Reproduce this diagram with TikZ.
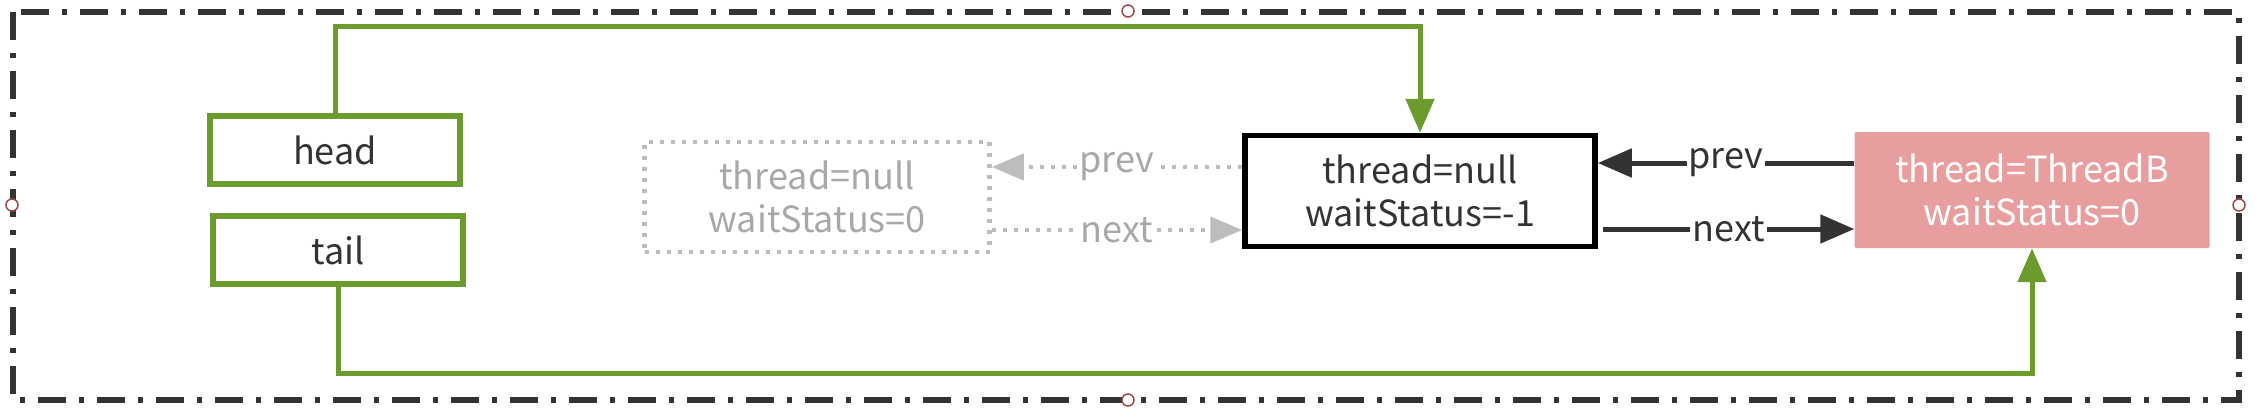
\documentclass[tikz,border=0pt]{standalone}
\usepackage{fontspec}
\setmainfont{Noto Sans CJK SC}
\usetikzlibrary{arrows.meta,calc}
\definecolor{grn}{HTML}{6B9B2D}
\definecolor{pinkbox}{HTML}{E89E9E}
\definecolor{gry}{HTML}{BDBDBD}
\definecolor{grytxt}{HTML}{A8A8A8}
\definecolor{drk}{HTML}{333333}
\definecolor{hdl}{HTML}{9C4A4A}
\begin{document}
\begin{tikzpicture}[x=1pt,y=-1pt,
  font=\fontsize{36}{43}\selectfont,
  ptrbox/.style={draw=grn, line width=5.5pt, minimum width=250pt, minimum height=68pt, text=drk, inner sep=0pt},
  oldnode/.style={draw=gry, line width=4.5pt, dash pattern=on 4pt off 7pt, text=grytxt, align=center, minimum width=345pt, minimum height=110pt, inner sep=0pt},
  curnode/.style={draw=black, line width=5.5pt, text=drk, align=center, minimum width=350pt, minimum height=111pt, inner sep=0pt},
  newnode/.style={fill=pinkbox, text=white, align=center, minimum width=355pt, minimum height=116pt, inner sep=0pt, rounded corners=2pt},
  gptr/.style={draw=grn, line width=5pt, -{Triangle[length=34pt,width=28pt]}},
  garr/.style={draw=gry, line width=4.5pt, dash pattern=on 4pt off 7pt, -{Triangle[length=32pt,width=26pt]}},
  darr/.style={draw=drk, line width=5pt, -{Triangle[length=34pt,width=28pt]}},
  glabel/.style={fill=white, text=grytxt, inner sep=2pt},
  dlabel/.style={fill=white, text=drk, inner sep=2pt},
  handle/.style={circle, draw=hdl, fill=white, line width=1.5pt, minimum size=12pt, inner sep=0pt}
]
\fill[white] (0,0) rectangle (2258,416);
\useasboundingbox (0,0) rectangle (2258,416);

% frame
\draw[drk, line width=6pt, dash pattern=on 28pt off 13pt on 5pt off 13pt] (13,12) rectangle (2239,400);

% nodes
\node[ptrbox] (head) at (335,150) {head};
\node[ptrbox] (tail) at (338,250) {tail};
\node[oldnode] (old) at (817,197) {thread=null\\waitStatus=0};
\node[curnode] (cur) at (1420,191) {thread=null\\waitStatus=-1};
\node[newnode] (new) at (2032,190) {thread=ThreadB\\waitStatus=0};

% handles
\node[handle] (h1) at (1128,11) {};
\node[handle] (h2) at (12,205) {};
\node[handle] (h3) at (2239,205) {};
\node[handle] (h4) at (1128,400) {};

% head / tail pointers
\coordinate (hc) at (1420,26);
\coordinate (tc) at (2032,373);
\draw[gptr] (head.north) |- (hc) -- (cur.north);
\draw[gptr] (tail.south) |- (tc) -- (new.south);

% links
\coordinate (y1) at (0,167);
\coordinate (y2) at (0,230);
\coordinate (y3) at (0,163);
\coordinate (y4) at (0,229);
\draw[garr] (cur.west |- y1) -- node[glabel]{prev} (old.east |- y1);
\draw[garr] (old.east |- y2) -- node[glabel]{next} (cur.west |- y2);
\draw[darr] (new.west |- y3) -- node[dlabel]{prev} (cur.east |- y3);
\draw[darr] ([xshift=5pt]cur.east |- y4) -- node[dlabel]{next} (new.west |- y4);
\end{tikzpicture}
\end{document}
